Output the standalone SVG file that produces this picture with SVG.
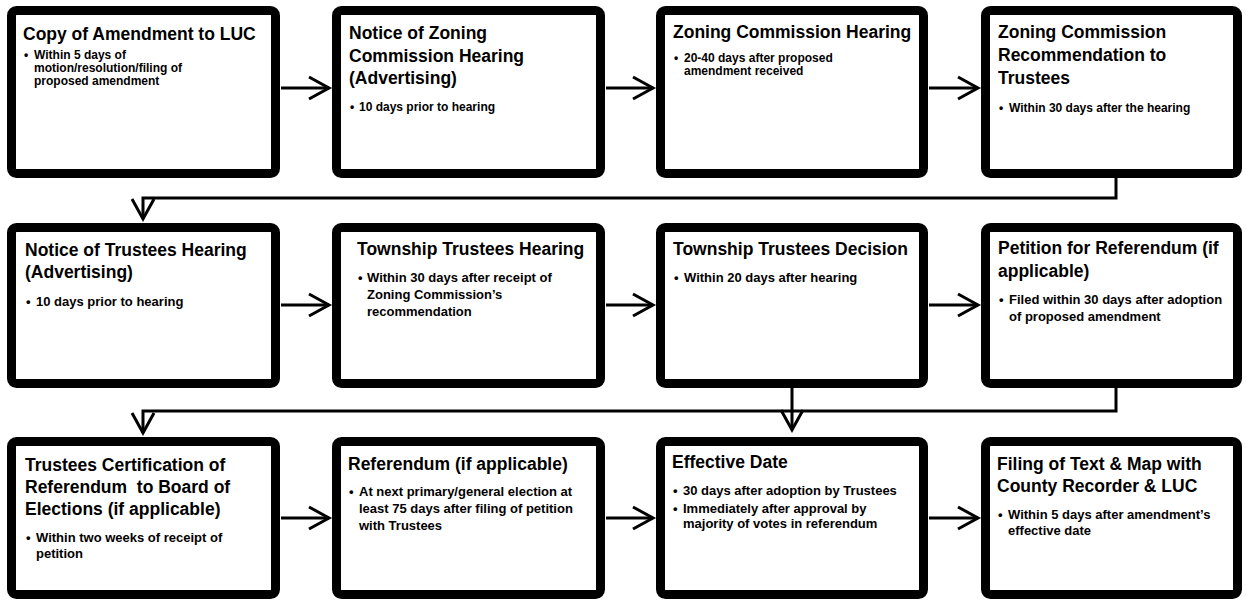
<svg xmlns="http://www.w3.org/2000/svg" width="1246" height="600" viewBox="0 0 1246 600">
<style>
.box{fill:#fff;stroke:#000;stroke-width:9}
.t{font-family:"Liberation Sans",Arial,sans-serif;font-weight:bold;font-size:17.5px;fill:#000;white-space:pre}
.b{font-family:"Liberation Sans",Arial,sans-serif;font-weight:bold;font-size:13px;fill:#000}
.s{font-family:"Liberation Sans",Arial,sans-serif;font-weight:bold;font-size:12px;fill:#000}
.c{fill:none;stroke:#000;stroke-width:3}
</style>
<defs>
<marker id="arr" markerUnits="userSpaceOnUse" markerWidth="30" markerHeight="30" viewBox="-24 -15 30 30" refX="0" refY="0" orient="auto">
<path d="M-20,-11 L0,0 L-20,11" fill="none" stroke="#000" stroke-width="3"/>
</marker>
</defs>
<rect width="1246" height="600" fill="#fff"/>
<g id="connectors">
<path class="c" d="M281,88 H329" marker-end="url(#arr)"/>
<path class="c" d="M606,88 H653" marker-end="url(#arr)"/>
<path class="c" d="M929,88 H978" marker-end="url(#arr)"/>
<path class="c" d="M1116,178 V198 H143 V219" marker-end="url(#arr)"/>
<path class="c" d="M281,305 H329" marker-end="url(#arr)"/>
<path class="c" d="M606,305 H653" marker-end="url(#arr)"/>
<path class="c" d="M929,305 H978" marker-end="url(#arr)"/>
<path class="c" d="M1116,388 V411 H143 V433" marker-end="url(#arr)"/>
<path class="c" d="M792,388 V430" marker-end="url(#arr)"/>
<path class="c" d="M281,518 H329" marker-end="url(#arr)"/>
<path class="c" d="M606,518 H653" marker-end="url(#arr)"/>
<path class="c" d="M929,518 H978" marker-end="url(#arr)"/>
</g>
<g id="n1">
<rect class="box" x="11.5" y="10.5" width="264" height="163" rx="5"/>
<text class="t" x="23" y="40">Copy of Amendment to LUC</text>
<text class="s" x="24" y="59">•</text>
<text class="s" x="34" y="59">Within 5 days of</text>
<text class="s" x="34" y="72">motion/resolution/filing of</text>
<text class="s" x="34" y="85">proposed amendment</text>
</g>
<g id="n2">
<rect class="box" x="336.5" y="10.5" width="264" height="163" rx="5"/>
<text class="t" x="349" y="39">Notice of Zoning</text>
<text class="t" x="349" y="62">Commission Hearing</text>
<text class="t" x="349" y="84">(Advertising)</text>
<text class="s" x="350" y="111">•</text>
<text class="s" x="359" y="111">10 days prior to hearing</text>
</g>
<g id="n3">
<rect class="box" x="660.5" y="10.5" width="263" height="163" rx="5"/>
<text class="t" x="673" y="38">Zoning Commission Hearing</text>
<text class="s" x="674" y="62">•</text>
<text class="s" x="684" y="62">20-40 days after proposed</text>
<text class="s" x="684" y="75">amendment received</text>
</g>
<g id="n4">
<rect class="box" x="985.5" y="10.5" width="252" height="163" rx="5"/>
<text class="t" x="998" y="38">Zoning Commission</text>
<text class="t" x="998" y="61">Recommendation to</text>
<text class="t" x="998" y="84">Trustees</text>
<text class="s" x="999" y="112">•</text>
<text class="s" x="1009" y="112">Within 30 days after the hearing</text>
</g>
<g id="n5">
<rect class="box" x="11.5" y="227.5" width="264" height="156" rx="5"/>
<text class="t" x="25" y="256">Notice of Trustees Hearing</text>
<text class="t" x="25" y="278">(Advertising)</text>
<text class="b" x="26" y="306">•</text>
<text class="b" x="36" y="306">10 days prior to hearing</text>
</g>
<g id="n6">
<rect class="box" x="336.5" y="227.5" width="264" height="156" rx="5"/>
<text class="t" x="357" y="255">Township Trustees Hearing</text>
<text class="b" x="358" y="282">•</text>
<text class="b" x="367" y="282">Within 30 days after receipt of</text>
<text class="b" x="367" y="299">Zoning Commission’s</text>
<text class="b" x="367" y="316">recommendation</text>
</g>
<g id="n7">
<rect class="box" x="660.5" y="227.5" width="263" height="156" rx="5"/>
<text class="t" x="673" y="255">Township Trustees Decision</text>
<text class="b" x="674" y="282">•</text>
<text class="b" x="684" y="282">Within 20 days after hearing</text>
</g>
<g id="n8">
<rect class="box" x="985.5" y="227.5" width="252" height="156" rx="5"/>
<text class="t" x="998" y="254">Petition for Referendum (if</text>
<text class="t" x="998" y="277">applicable)</text>
<text class="b" x="999" y="304">•</text>
<text class="b" x="1009" y="304">Filed within 30 days after adoption</text>
<text class="b" x="1009" y="321">of proposed amendment</text>
</g>
<g id="n9">
<rect class="box" x="11.5" y="441.5" width="264" height="153" rx="5"/>
<text class="t" x="25" y="471">Trustees Certification of</text>
<text class="t" x="25" y="493">Referendum  to Board of</text>
<text class="t" x="25" y="515">Elections (if applicable)</text>
<text class="b" x="26" y="542">•</text>
<text class="b" x="36" y="542">Within two weeks of receipt of</text>
<text class="b" x="36" y="558">petition</text>
</g>
<g id="n10">
<rect class="box" x="336.5" y="441.5" width="264" height="153" rx="5"/>
<text class="t" x="348" y="470">Referendum (if applicable)</text>
<text class="b" x="349" y="496">•</text>
<text class="b" x="359" y="496">At next primary/general election at</text>
<text class="b" x="359" y="513">least 75 days after filing of petition</text>
<text class="b" x="359" y="530">with Trustees</text>
</g>
<g id="n11">
<rect class="box" x="660.5" y="441.5" width="263" height="153" rx="5"/>
<text class="t" x="672" y="468">Effective Date</text>
<text class="b" x="673" y="495">•</text>
<text class="b" x="683" y="495">30 days after adoption by Trustees</text>
<text class="b" x="673" y="513">•</text>
<text class="b" x="683" y="513">Immediately after approval by</text>
<text class="b" x="683" y="528">majority of votes in referendum</text>
</g>
<g id="n12">
<rect class="box" x="985.5" y="441.5" width="252" height="153" rx="5"/>
<text class="t" x="997" y="470">Filing of Text &amp; Map with</text>
<text class="t" x="997" y="492">County Recorder &amp; LUC</text>
<text class="b" x="998" y="519">•</text>
<text class="b" x="1008" y="519">Within 5 days after amendment’s</text>
<text class="b" x="1008" y="535">effective date</text>
</g>
</svg>
